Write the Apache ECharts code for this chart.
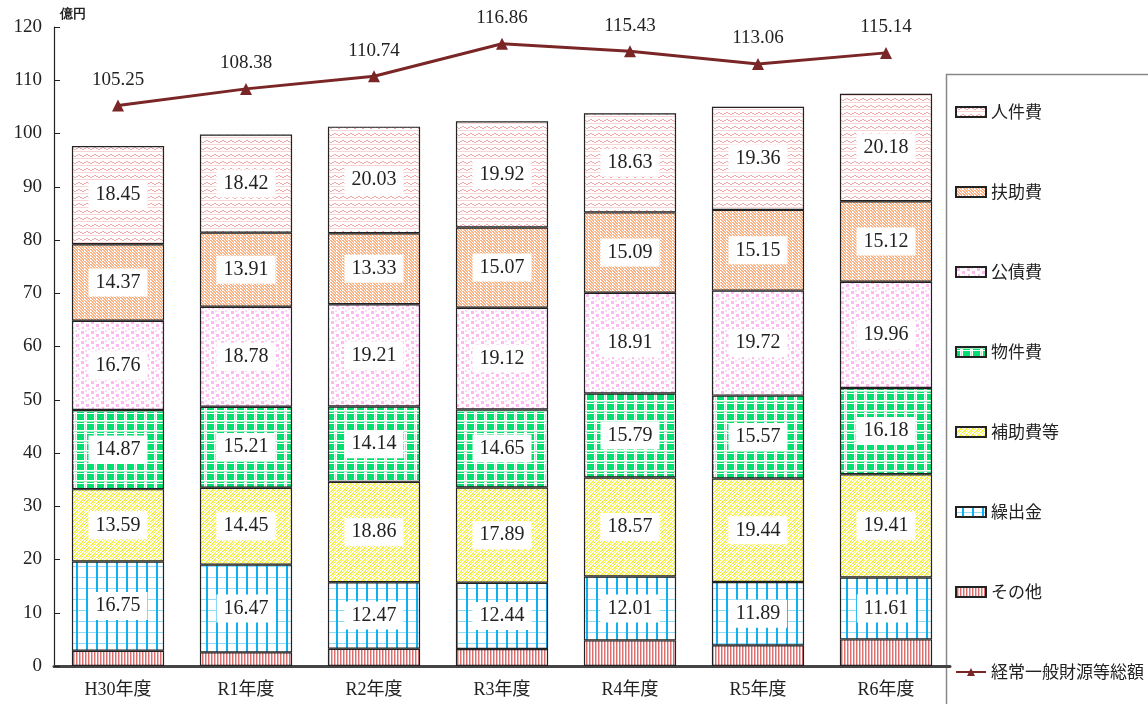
<!DOCTYPE html>
<html><head><meta charset="utf-8">
<script src="https://cdn.jsdelivr.net/npm/echarts@6/dist/echarts.min.js"></script>
<style>html,body{margin:0;padding:0;background:#fff}#c{width:1148px;height:704px}</style>
</head><body><div id="c"></div>
<script>
const categories = ['H30年度','R1年度','R2年度','R3年度','R4年度','R5年度','R6年度'];
const sonota   = [2.87, 2.56, 3.25, 3.19, 4.81, 3.88, 5.00];
const kuridashi = [16.75, 16.47, 12.47, 12.44, 12.01, 11.89, 11.61];
const hojo     = [13.59, 14.45, 18.86, 17.89, 18.57, 19.44, 19.41];
const bukken   = [14.87, 15.21, 14.14, 14.65, 15.79, 15.57, 16.18];
const kousai   = [16.76, 18.78, 19.21, 19.12, 18.91, 19.72, 19.96];
const fujo     = [14.37, 13.91, 13.33, 15.07, 15.09, 15.15, 15.12];
const jinken   = [18.45, 18.42, 20.03, 19.92, 18.63, 19.36, 20.18];
const total    = [105.25, 108.38, 110.74, 116.86, 115.43, 113.06, 115.14];
const yTicks   = [0,10,20,30,40,50,60,70,80,90,100,110,120];
const legendNames = ['人件費','扶助費','公債費','物件費','補助費等','繰出金','その他'];
const lineName = '経常一般財源等総額';

function mk(w,h,draw){const c=document.createElement('canvas');c.width=w;c.height=h;const g=c.getContext('2d');g.fillStyle='#fff';g.fillRect(0,0,w,h);draw(g);return {image:c,repeat:'repeat'};}
const P = {
  jinken: mk(8,7,g=>{g.fillStyle='#f0a8a8';g.fillRect(0,1,2,1);g.fillRect(2,2,2,1);g.fillRect(4,1,2,1);g.fillRect(6,0,2,1);g.fillStyle='#f8d4d4';g.fillRect(0,4,8,1);}),
  fujo: mk(6,6,g=>{g.fillStyle='#ffb080';for(let i=0;i<6;i++){g.fillRect(i,i,2,1);g.fillRect((i+3)%6,i,2,1);} }),
  kousai: mk(10,10,g=>{g.fillStyle='#ffb8f0';g.fillRect(1,1,3,3);g.fillRect(6,4,3,3);g.fillRect(2,7,2,2);g.fillStyle='#ffd8f8';g.fillRect(5,0,2,2);g.fillRect(8,8,2,2);}),
  bukken: mk(10,10,g=>{g.fillStyle='#00e070';g.fillRect(0,0,10,10);g.fillStyle='#fff';g.fillRect(0,3,10,1);g.fillRect(0,0,10,1);g.fillRect(4,0,3,10);g.fillStyle='#a0f0c0';g.fillRect(0,1,10,1);g.fillRect(5,4,1,6);}),
  hojo: mk(6,6,g=>{g.fillStyle='#f8f040';for(let i=0;i<6;i++){g.fillRect((5-i+6)%6,i,2,1);g.fillRect((8-i+6)%6,i,1,1);} }),
  kuri: mk(10,11,g=>{g.fillStyle='#90dcf8';g.fillRect(0,5,10,1);g.fillStyle='#10b0f0';g.fillRect(6,0,2,11);}),
  sonota: mk(3,4,g=>{g.fillStyle='#d87070';g.fillRect(1,0,1,4);g.fillStyle='#f0b8b8';g.fillRect(2,0,1,4);})
};

const serif = "'Liberation Serif','DejaVu Serif','Noto Sans CJK JP',serif";
function barSeries(name, data, pat, showLabel){
  return {name, type:'bar', stack:'a', data, barWidth:'72%',
    itemStyle:{color:pat, borderColor:'#222', borderWidth:1.2},
    label:{show:showLabel, position:'inside', backgroundColor:'#fff', padding:[5,7,3,7],
      color:'#222', fontFamily:serif, fontSize:20, formatter:p=>p.value.toFixed(2)}
  };
}
const chart = echarts.init(document.getElementById('c'));
chart.setOption({
  animation:false,
  grid:{left:54, right:198, top:27, bottom:38},
  graphic:[{type:'rect', left:944, top:72, shape:{width:215, height:650},
    style:{fill:'none', stroke:'#888', lineWidth:1.5}, z:-1}],
  legend:{orient:'vertical', left:955, top:102, padding:0, itemGap:60,
    itemWidth:30, itemHeight:10,
    textStyle:{fontFamily:"'Noto Sans CJK JP',sans-serif", fontSize:17, color:'#222', lineHeight:20},
    data:legendNames.map(n=>({name:n, icon:'rect'})).concat([{name:lineName}])},
  xAxis:{type:'category', data:categories,
    axisLine:{lineStyle:{color:'#444', width:3}}, axisTick:{show:false},
    axisLabel:{fontFamily:serif, fontSize:18, color:'#222', margin:15}},
  yAxis:{type:'value', min:0, max:120, interval:10, name:'億円',
    nameLocation:'end', nameGap:6, nameTextStyle:{align:'left', fontSize:13, fontWeight:'bold', color:'#222', padding:[0,0,0,6]},
    axisLine:{show:true, lineStyle:{color:'#222', width:1.2}},
    axisTick:{show:true, inside:true, length:6, lineStyle:{color:'#222'}},
    splitLine:{show:false},
    axisLabel:{fontFamily:serif, fontSize:19, color:'#222', margin:12,
      formatter:v=>yTicks.includes(v)?String(v):''}},
  series:[
    barSeries('その他', sonota, P.sonota, false),
    barSeries('繰出金', kuridashi, P.kuri, true),
    barSeries('補助費等', hojo, P.hojo, true),
    barSeries('物件費', bukken, P.bukken, true),
    barSeries('公債費', kousai, P.kousai, true),
    barSeries('扶助費', fujo, P.fujo, true),
    barSeries('人件費', jinken, P.jinken, true),
    {name:lineName, type:'line', data:total, symbol:'triangle', symbolSize:12,
      lineStyle:{color:'#7b2626', width:3}, itemStyle:{color:'#7b2626'},
      label:{show:true, position:'top', distance:10, fontFamily:serif, fontSize:19, color:'#222', formatter:p=>p.value.toFixed(2)}}
  ]
});
</script></body></html>
